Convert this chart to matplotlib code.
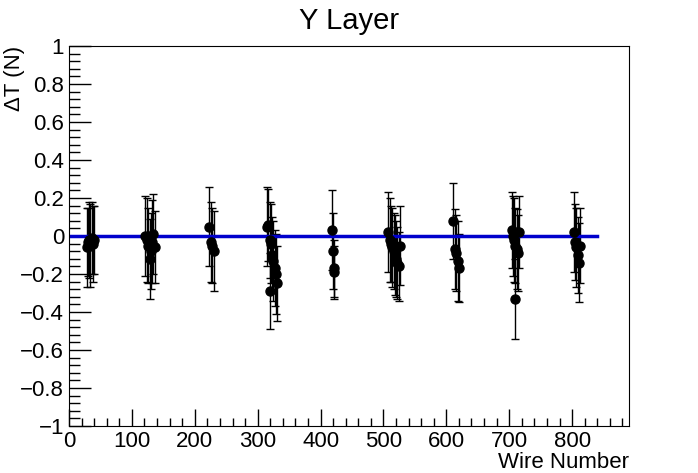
import numpy as np
import matplotlib.pyplot as plt
from matplotlib.ticker import MultipleLocator

plt.rcParams['font.family'] = ['Liberation Sans', 'DejaVu Sans']
fsize = 16

# wire number, delta T, error
wire = [28, 30, 32, 34, 36, 38, 40,
        121, 124, 126, 128, 130, 132, 134, 137,
        222, 226, 228, 230,
        315, 317, 319, 321, 323, 325, 327, 329, 331, 320,
        418, 420, 421, 422,
        508, 510, 512, 514, 516, 518, 520, 522, 524, 526,
        610, 613, 616, 618, 620,
        704, 706, 708, 710, 712, 714, 716, 709,
        803, 805, 807, 809, 811, 813]
dT = [-0.06, -0.03, -0.02, -0.05, -0.01, -0.04, -0.02,
      0.00, -0.02, -0.05, -0.12, -0.08, -0.03, 0.01, -0.06,
      0.05, -0.03, -0.05, -0.08,
      0.05, 0.06, -0.02, -0.04, -0.10, -0.13, -0.17, -0.20, -0.25, -0.29,
      0.03, -0.08, -0.17, -0.19,
      0.02, -0.02, -0.04, -0.06, -0.08, -0.10, -0.12, -0.14, -0.16, -0.05,
      0.08, -0.07, -0.09, -0.13, -0.17,
      0.03, 0.00, -0.02, -0.05, -0.07, -0.09, 0.02, -0.33,
      0.02, -0.03, -0.06, -0.10, -0.14, -0.05]
err = [0.21, 0.18, 0.20, 0.22, 0.19, 0.20, 0.18,
       0.21, 0.22, 0.20, 0.21, 0.20, 0.22, 0.21, 0.19,
       0.21, 0.21, 0.20, 0.21,
       0.21, 0.19, 0.20, 0.21, 0.20, 0.21, 0.20, 0.21, 0.20, 0.20,
       0.21, 0.20, 0.15, 0.14,
       0.21, 0.22, 0.20, 0.21, 0.20, 0.21, 0.20, 0.19, 0.18, 0.21,
       0.20, 0.21, 0.20, 0.21, 0.18,
       0.20, 0.21, 0.22, 0.20, 0.21, 0.20, 0.19, 0.21,
       0.21, 0.20, 0.21, 0.20, 0.21, 0.20]

fit_x = [0, 840]
fit_y = [0, 0]

fig = plt.figure(figsize=(6.98, 4.73), dpi=100)
ax = fig.add_axes([0.0989, 0.0994, 0.8018, 0.8033])

ax.errorbar(wire, dT, yerr=err, fmt='o', color='black', markersize=6.5,
            elinewidth=1, capsize=3, capthick=1)
ax.plot(fit_x, fit_y, color='#0000cc', linewidth=2.5)

ax.set_xlim(0, 890)
ax.set_ylim(-1, 1)
ax.xaxis.set_major_locator(MultipleLocator(100))
ax.xaxis.set_minor_locator(MultipleLocator(20))
ax.yaxis.set_major_locator(MultipleLocator(0.2))
ax.yaxis.set_minor_locator(MultipleLocator(0.04))
ax.tick_params(which='both', direction='in', top=False, right=False,
               labelsize=fsize, width=1)
ax.tick_params(axis='x', which='major', length=12)
ax.tick_params(axis='x', which='minor', length=6)
ax.tick_params(axis='y', which='major', length=16)
ax.tick_params(axis='y', which='minor', length=8)
ax.set_yticks(np.arange(-1, 1.01, 0.2))
ax.set_yticklabels(['\u22121', '\u22120.8', '\u22120.6', '\u22120.4', '\u22120.2',
                    '0', '0.2', '0.4', '0.6', '0.8', '1'])

ax.set_title('Y Layer', fontsize=21, pad=12)
ax.set_xlabel('Wire Number', fontsize=fsize, loc='right', labelpad=0)
ax.set_ylabel('\u0394T (N)', fontsize=fsize, loc='top')
ax.yaxis.set_label_coords(-0.078, 1.0)

fig.savefig('out.png', dpi=100)
